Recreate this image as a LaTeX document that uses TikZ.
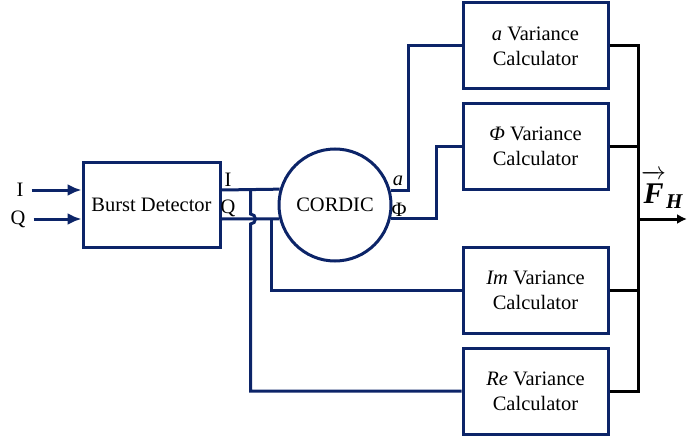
\documentclass[tikz,border=0pt]{standalone}
\usepackage{amsmath}
\usepackage{fontspec}
\setmainfont{Liberation Serif}
\usetikzlibrary{calc}
\usetikzlibrary{shapes,arrows,arrows.meta,positioning}
\definecolor{navy}{RGB}{12,36,104}

\begin{document}
\begin{tikzpicture}[x=1pt,y=1pt,
     font=\fontsize{20.5}{25}\selectfont,
     block/.style = {draw=navy, rectangle, line width=3pt, minimum width=145pt,
      minimum height=86pt, align=center, inner sep=0pt},
     circ/.style = {draw=navy, circle, line width=3pt, minimum size=112pt, inner sep=0pt},
     label/.style = {inner sep=1pt},
     sig/.style = {draw=navy, line width=3pt},
     bus/.style = {draw=black, line width=3pt},
     arrow/.style = {-{Latex[length=14pt,width=12pt]}}
    ]
    \useasboundingbox (0,0) rectangle (687,437);

    \node [block, minimum width=137pt, minimum height=84pt] (burst) at (151.5,232) {Burst Detector};
    \node [circ, right of=burst, node distance=183.5pt] (cordic) {CORDIC};
    \node [block] (avar) at (535.5,391) {\textit{a} Variance\\Calculator};
    \node [block, below of=avar, node distance=100.5pt] (phivar) {\textit{Φ} Variance\\Calculator};
    \node [block, below of=phivar, node distance=144pt] (imvar) {\textit{Im} Variance\\Calculator};
    \node [block, below of=imvar, node distance=100.5pt] (revar) {\textit{Re} Variance\\Calculator};

    \node [label] (iin) at (20,247) {I};
    \node [label] (qin) at (18,218) {Q};
    \node [label] (iout) at (228,257) {I};
    \node [label] (qout) at (228,229) {Q};
    \node [label] (aout) at (398,256) {\textit{a}};
    \node [label] (phiout) at (399,227) {Φ};
    \node [label, anchor=base west, font=\fontsize{30}{30}\selectfont] (fhlab) at (640,234)
      {$\overrightarrow{\textbf{\textit{F}}\rule{0pt}{0.8em}}_{\textbf{\textit{H}}}$};

    \coordinate (tapi) at ($(burst.east |- iin)+(29,0)$);
    \coordinate (tapq) at ($(burst.east |- qin)+(50,0)$);
    \coordinate (bustop) at ($(avar.east)+(29,0)$);
    \coordinate (fh) at (687,218);

    \draw[sig,arrow,shorten <=7pt] (iin) -- (burst.west |- iin);
    \draw[sig,arrow,shorten <=7pt] (qin) -- (burst.west |- qin);
    \draw[sig] (burst.east |- iin) -- (cordic.164);
    \draw[sig] (burst.east |- qin) -- (cordic.194);
    \draw[sig] (tapi) -- ++(0,-24) arc[start angle=90, end angle=-90, radius=5] |- (revar.west);
    \draw[sig] (tapq) |- (imvar.west);
    \draw[sig] (cordic.15) -- ++(18,0) |- (avar.west);
    \draw[sig] (cordic.-14) -- ++(46,0) |- (phivar.west);

    \draw[bus] (avar.east) -- (bustop) |- (revar.east);
    \draw[bus] (phivar.east) -- (phivar.east -| bustop);
    \draw[bus] (imvar.east) -- (imvar.east -| bustop);
    \draw[bus,-{Latex[length=10pt,width=10pt]}] (bustop |- fh) -- (fh);
\end{tikzpicture}
\end{document}
